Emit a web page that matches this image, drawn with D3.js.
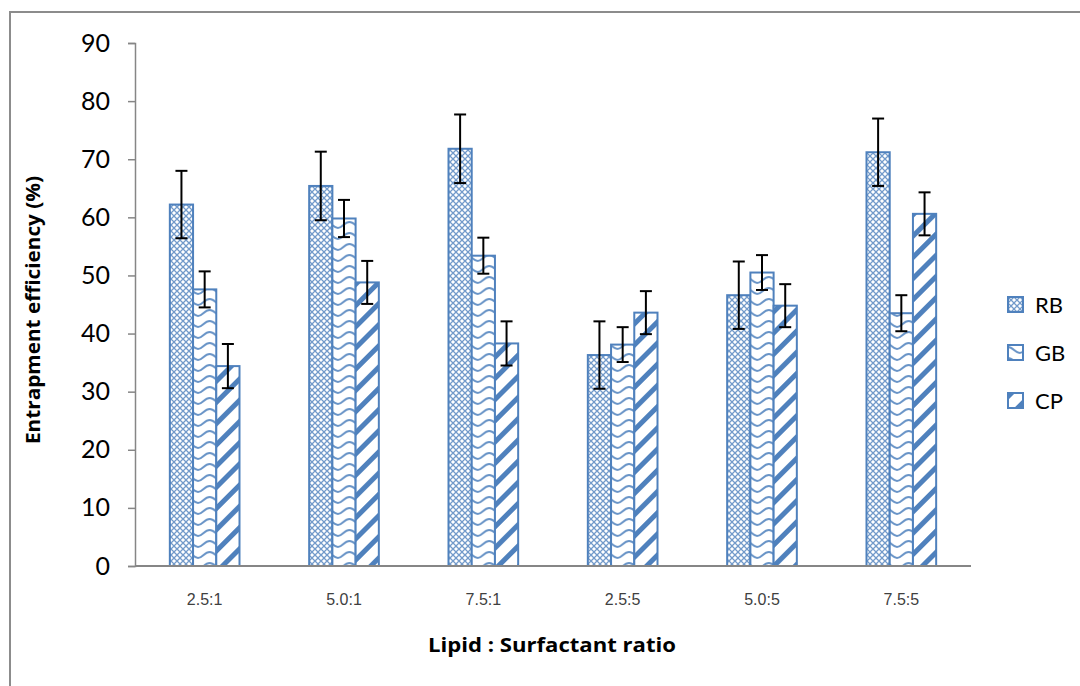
<!DOCTYPE html>
<meta charset="utf-8">
<script src="https://d3js.org/d3.v7.min.js"></script>
<style>
body { margin: 0; background: #fff; }
svg { display: block; font-family: Lato, "Open Sans", sans-serif; }
</style>
<body>
</body>
<script>

var ratios = ["2.5:1", "5.0:1", "7.5:1", "2.5:5", "5.0:5", "7.5:5"];
var seriesNames = ["RB", "GB", "CP"];
var rbValues = [62.2, 65.4, 71.8, 36.3, 46.6, 71.2];
var gbValues = [47.6, 59.8, 53.4, 38.1, 50.5, 43.5];
var cpValues = [34.4, 48.8, 38.3, 43.6, 44.8, 60.6];
var rbErrors = [5.8, 5.9, 5.9, 5.8, 5.8, 5.8];
var gbErrors = [3.1, 3.2, 3.1, 3.0, 3.0, 3.1];
var cpErrors = [3.8, 3.7, 3.8, 3.7, 3.7, 3.7];
var yTicks = [0, 10, 20, 30, 40, 50, 60, 70, 80, 90];

var blue = "#4f81bd";
var width = 1080, height = 686;

var svg = d3.select("body").append("svg")
  .attr("width", width)
  .attr("height", height);

// chart frame (right & bottom edges fall outside the picture)
svg.append("rect")
  .attr("x", 10).attr("y", 12)
  .attr("width", 1100).attr("height", 700)
  .attr("fill", "none")
  .attr("stroke", "#8c8c8c")
  .attr("stroke-width", 2);

var defs = svg.append("defs");

// RB : small diamond lattice
var p1 = defs.append("pattern").attr("id", "pat-RB")
  .attr("patternUnits", "userSpaceOnUse").attr("width", 6).attr("height", 6);
p1.append("rect").attr("width", 6).attr("height", 6).attr("fill", "#fff");
p1.append("path").attr("d", "M0,0L6,6M6,0L0,6")
  .attr("stroke", blue).attr("stroke-width", 1.3).attr("stroke-opacity", 0.8);

// GB : waves
var p2 = defs.append("pattern").attr("id", "pat-GB")
  .attr("patternUnits", "userSpaceOnUse").attr("width", 23.3).attr("height", 11);
p2.append("rect").attr("width", 23.3).attr("height", 11).attr("fill", "#fff");
p2.append("path").attr("d", "M0,2 C5,2 7,8 11.65,8 C16,8 18,2 23.3,2")
  .attr("fill", "none").attr("stroke", blue).attr("stroke-width", 2).attr("stroke-opacity", 0.85);

// CP : wide upward diagonal
var p3 = defs.append("pattern").attr("id", "pat-CP")
  .attr("patternUnits", "userSpaceOnUse").attr("width", 15).attr("height", 15)
  .attr("patternTransform", "rotate(45)");
p3.append("rect").attr("width", 15).attr("height", 15).attr("fill", "#fff");
p3.append("rect").attr("width", 5).attr("height", 15).attr("fill", blue);

var margin = { left: 135, right: 109, top: 43, bottom: 120 };

var x0 = d3.scaleBand()
  .domain(ratios)
  .range([margin.left, width - margin.right])
  .paddingInner(0.5)
  .paddingOuter(0.25);

var x1 = d3.scaleBand()
  .domain(seriesNames)
  .range([0, x0.bandwidth()]);

var y = d3.scaleLinear()
  .domain([0, 90])
  .range([height - margin.bottom, margin.top]);

// y axis
var yAxis = svg.append("g")
  .attr("transform", "translate(" + margin.left + ",0)")
  .call(d3.axisLeft(y).tickValues(yTicks).tickSize(7).tickPadding(18));
yAxis.select(".domain").attr("stroke", "#868686").attr("stroke-width", 1.5);
yAxis.selectAll(".tick line").attr("stroke", "#868686").attr("stroke-width", 1.5);
yAxis.selectAll(".tick text")
  .attr("font-family", "Lato, sans-serif")
  .attr("font-size", 25)
  .attr("fill", "#000");

// x axis
var xAxis = svg.append("g")
  .attr("transform", "translate(0," + y(0) + ")")
  .call(d3.axisBottom(x0).tickSize(0).tickPadding(28).tickSizeOuter(0));
xAxis.select(".domain").remove();
xAxis.selectAll(".tick text")
  .attr("font-family", "Liberation Sans, Arial, sans-serif")
  .attr("font-size", 16)
  .attr("fill", "#404040");

var series = seriesNames.map(function(name, i) {
  var vals = [rbValues, gbValues, cpValues][i];
  var errs = [rbErrors, gbErrors, cpErrors][i];
  return ratios.map(function(r, j) {
    return { ratio: r, series: name, value: vals[j], err: errs[j] };
  });
});
var flat = [].concat.apply([], series);

svg.append("g").selectAll("rect")
  .data(flat).enter().append("rect")
  .attr("x", function(d) { return x0(d.ratio) + x1(d.series); })
  .attr("y", function(d) { return y(d.value); })
  .attr("width", x1.bandwidth())
  .attr("height", function(d) { return y(0) - y(d.value); })
  .attr("fill", function(d) { return "url(#pat-" + d.series + ")"; })
  .attr("stroke", blue)
  .attr("stroke-width", 2);

// x axis line over bars
svg.append("line")
  .attr("x1", margin.left).attr("x2", width - margin.right)
  .attr("y1", y(0)).attr("y2", y(0))
  .attr("stroke", "#868686").attr("stroke-width", 2);

// error bars
var eg = svg.append("g").selectAll("g")
  .data(flat).enter().append("g")
  .attr("transform", function(d) { return "translate(" + (x0(d.ratio) + x1(d.series) + x1.bandwidth() / 2) + ",0)"; })
  .attr("stroke", "#000").attr("stroke-width", 2);
eg.append("line")
  .attr("y1", function(d) { return y(d.value + d.err); })
  .attr("y2", function(d) { return y(d.value - d.err); });
eg.append("line").attr("x1", -6).attr("x2", 6)
  .attr("y1", function(d) { return y(d.value + d.err); })
  .attr("y2", function(d) { return y(d.value + d.err); });
eg.append("line").attr("x1", -6).attr("x2", 6)
  .attr("y1", function(d) { return y(d.value - d.err); })
  .attr("y2", function(d) { return y(d.value - d.err); });

// axis titles
svg.append("text")
  .attr("transform", "translate(40,310) rotate(-90)")
  .attr("text-anchor", "middle")
  .attr("font-family", "Open Sans, sans-serif")
  .attr("font-weight", "bold")
  .attr("font-size", 20)
  .attr("textLength", 268)
  .attr("lengthAdjust", "spacingAndGlyphs")
  .text("Entrapment efficiency (%)");

svg.append("text")
  .attr("x", 552).attr("y", 652)
  .attr("text-anchor", "middle")
  .attr("font-family", "Open Sans, sans-serif")
  .attr("font-weight", "bold")
  .attr("font-size", 20)
  .attr("textLength", 248)
  .attr("lengthAdjust", "spacingAndGlyphs")
  .text("Lipid : Surfactant ratio");

// legend
var legend = svg.append("g").selectAll("g")
  .data(seriesNames).enter().append("g")
  .attr("transform", function(d, i) { return "translate(1008," + (297 + i * 48) + ")"; });
legend.append("rect")
  .attr("width", 15).attr("height", 15)
  .attr("fill", function(d) { return "url(#pat-" + d + ")"; })
  .attr("stroke", blue).attr("stroke-width", 2);
legend.append("text")
  .attr("x", 27).attr("y", 16)
  .attr("font-size", 22)
  .text(function(d) { return d; });

</script>
